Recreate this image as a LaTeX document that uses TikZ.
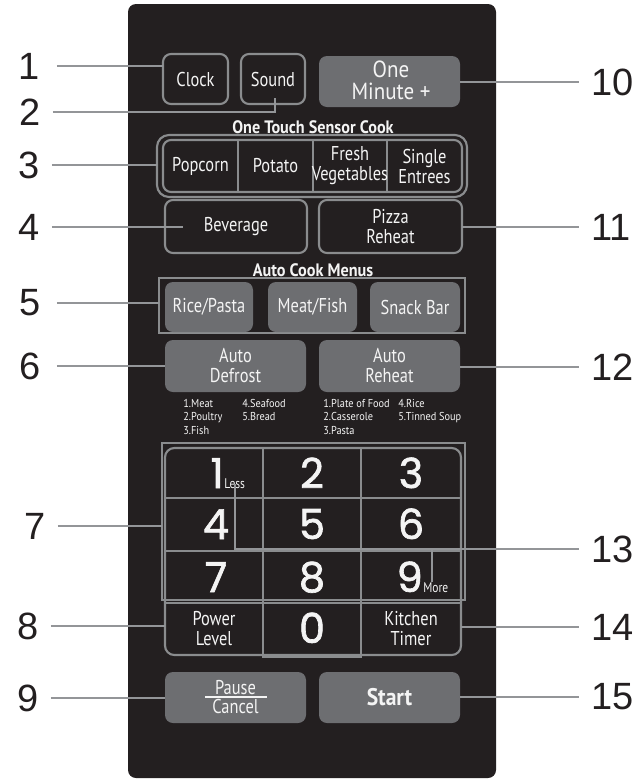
\documentclass[tikz,border=0pt]{standalone}
\usepackage{fontspec}
\newfontfamily\lab{Liberation Sans}
\newfontfamily\btn[FakeStretch=0.82]{PT Sans}
\newfontfamily\btnw[FakeStretch=0.9]{PT Sans}
\newfontfamily\num[FakeBold=1.6]{Poppins}
\definecolor{panel}{HTML}{231F20}
\definecolor{outl}{HTML}{8A8C8E}
\definecolor{fillg}{HTML}{6D6E71}
\definecolor{leadg}{HTML}{939598}
\definecolor{btntext}{HTML}{F4F4F4}
\definecolor{labblack}{HTML}{231F20}
\newcommand\btnfont{\btn\fontsize{15}{15}\selectfont}
\newcommand\mwbtn[7]{%
  \pgfmathsetmacro\mwW{(#4-#2)*0.75}%
  \pgfmathsetmacro\mwH{(#5-#3)*0.75}%
  \node[#6, minimum width=\mwW pt, minimum height=\mwH pt] (#1) at ({(#2+#4)/2},{(#3+#5)/2}) {#7};}
\tikzset{
  base/.style={inner sep=0pt, outer sep=0pt, text=btntext, font=\btnfont, align=center},
  outbtn/.style={base, draw=outl, line width=1.6pt, fill=panel, rounded corners=6pt},
  fillbtn/.style={base, fill=fillg, rounded corners=6pt},
  hlbox/.style={base, draw=outl, line width=1.6pt},
  gridl/.style={draw=outl, line width=1.6pt},
  lead/.style={draw=leadg, line width=1.5pt},
  lbl/.style={inner sep=0pt, outer sep=0pt, text=labblack, font=\lab\fontsize{28.5}{30}\selectfont},
  head/.style={inner sep=0pt, text=btntext, font=\btnw\bfseries\fontsize{13.5}{13.5}\selectfont},
  plain/.style={inner sep=0pt, text=btntext, font=\btnfont, align=center},
  bigt/.style={inner sep=0pt, text=btntext, font=\btnw\fontsize{17.5}{17.5}\selectfont, anchor=base},
  lst/.style={inner sep=0pt, text=btntext, font=\btnw\fontsize{8.6}{10}\selectfont, align=left, anchor=north west},
  dig/.style={inner sep=0pt, text=btntext, font=\num\fontsize{31}{31}\selectfont},
  tiny/.style={inner sep=1pt, text=btntext, font=\btn\fontsize{10.5}{10.5}\selectfont},
}
\begin{document}
\begin{tikzpicture}[x=0.75pt,y=-0.75pt]
\useasboundingbox (0,0) rectangle (638,779);
% panel
\fill[panel, rounded corners=6pt] (128,4) rectangle (496,778);

% top row
\mwbtn{clock}{163}{54}{228}{104}{outbtn}{Clock}
\mwbtn{sound}{241}{54}{305}{104}{outbtn}{Sound}
\mwbtn{onemin}{319}{56}{460}{107}{fillbtn}{}
\node[bigt] (oneT) at (391,77) {One};
\node[bigt] (minT) at (391,99) {Minute +};

% sensor cook
\node[head] (h1) at (313,127) {One Touch Sensor Cook};
\mwbtn{sgrp}{157}{135}{467}{197}{outbtn, rounded corners=9pt}{}
\mwbtn{sinner}{163}{140}{462}{192}{outbtn}{}
\draw[gridl] (238,140) -- (238,192) (313,140) -- (313,192) (387,140) -- (387,192);
\node[plain] (popcorn) at (200.5,166) {Popcorn};
\node[plain] (potato) at (275.5,166) {Potato};
\node[plain] (fresh) at (350,166) {Fresh\\Vegetables};
\node[plain] (single) at (424.5,166) {Single\\Entrees};

\mwbtn{bev}{165}{200}{307}{253}{outbtn}{Beverage}
\mwbtn{pizza}{319}{200}{462}{253}{outbtn}{Pizza\\Reheat}

% auto cook
\node[head] (h2) at (313,270) {Auto Cook Menus};
\mwbtn{acgrp}{159}{278}{465}{333}{hlbox}{}
\mwbtn{rice}{165}{282}{253}{332}{fillbtn}{Rice/Pasta}
\mwbtn{meat}{268}{282}{357}{332}{fillbtn}{Meat/Fish}
\mwbtn{snack}{370}{282}{460}{332}{fillbtn}{Snack Bar}

\mwbtn{adef}{165}{340}{306}{392}{fillbtn}{Auto\\Defrost}
\mwbtn{areh}{319}{340}{460}{392}{fillbtn}{Auto\\Reheat}

\node[lst] (ls1) at (183,399) {1.Meat\\2.Poultry\\3.Fish};
\node[lst] (ls2) at (242,399) {4.Seafood\\5.Bread};
\node[lst] (ls3) at (323,399) {1.Plate of Food\\2.Casserole\\3.Pasta};
\node[lst] (ls4) at (398,399) {4.Rice\\5.Tinned Soup};

% number pad
\mwbtn{padhl}{162}{443}{465}{600}{hlbox}{}
\draw[gridl] (263,600) -- (263,657) -- (361,657) -- (361,600);
\draw[gridl, rounded corners=7pt] (165,448) rectangle (461,655);
\draw[gridl] (263,448) -- (263,655) (361,448) -- (361,655);
\draw[gridl] (165,498) -- (461,498) (165,551) -- (461,551) (165,603) -- (461,603);

\node[dig, anchor=base east] (d1) at (224,488) {1};
\node[tiny, anchor=base west, inner sep=0pt] (lessT) at (224,488) {Less};
\node[dig, anchor=base] (d2) at (312,488) {2};
\node[dig, anchor=base] (d3) at (411,488) {3};
\node[dig, anchor=base] (d4) at (216,539) {4};
\node[dig, anchor=base] (d5) at (312,539) {5};
\node[dig, anchor=base] (d6) at (411,539) {6};
\node[dig, anchor=base] (d7) at (216,592) {7};
\node[dig, anchor=base] (d8) at (312,592) {8};
\node[dig, anchor=base east] (d9) at (423,592) {9};
\node[tiny, anchor=base west, inner sep=0pt] (moreT) at (423,592) {More};
\node[dig, anchor=base] (d0) at (312,643) {0};
\mwbtn{power}{165}{603}{263}{655}{base}{Power\\Level}
\mwbtn{kitchen}{361}{603}{461}{655}{base}{Kitchen\\Timer}

% bottom
\mwbtn{pause}{165}{672}{306}{723}{fillbtn}{}
\node[plain, anchor=south] (pauseT) at (235.5,695) {Pause};
\node[plain, anchor=north] (cancelT) at (235.5,699) {Cancel};
\draw[draw=btntext, line width=0.9pt] (205,697) -- (267,697);
\mwbtn{start}{319}{672}{460}{723}{fillbtn, font=\btnw\bfseries\fontsize{18}{18}\selectfont}{Start}

% labels left
\node[lbl] (l1) at (29,66) {1};
\node[lbl] (l2) at (30,112) {2};
\node[lbl] (l3) at (29,165) {3};
\node[lbl] (l4) at (29,227) {4};
\node[lbl] (l5) at (30,303) {5};
\node[lbl] (l6) at (30,366) {6};
\node[lbl] (l7) at (35,526) {7};
\node[lbl] (l8) at (28,626) {8};
\node[lbl] (l9) at (28,698) {9};
% labels right
\node[lbl, anchor=west] (l10) at (591,82) {10};
\node[lbl, anchor=west] (l11) at (591,227) {11};
\node[lbl, anchor=west] (l12) at (591,367) {12};
\node[lbl, anchor=west] (l13) at (591,549) {13};
\node[lbl, anchor=west] (l14) at (591,627) {14};
\node[lbl, anchor=west] (l15) at (591,697) {15};

% leader lines left
\draw[lead, shorten <=13pt] (l1.east) -- (l1.east -| clock.west);
\draw[lead, shorten <=9.3pt] (l2.east) -| ([xshift=1.5pt,yshift=4.5pt]sound.south);
\draw[lead, shorten <=9.3pt] (l3.east) -- (l3.east -| sgrp.west);
\draw[lead, shorten <=9.3pt] (l4.east) -- ([xshift=13.5pt]l4.east -| bev.west);
\draw[lead, shorten <=12.3pt] (l5.east) -- (l5.east -| acgrp.west);
\draw[lead, shorten <=12.3pt] (l6.east) -- (l6.east -| adef.west);
\draw[lead, shorten <=9.3pt] (l7.east) -- (l7.east -| padhl.west);
\draw[lead, shorten <=9.3pt] (l8.east) -- (l8.east -| power.west);
\draw[lead, shorten <=9.3pt] (l9.east) -- (l9.east -| pause.west);
% leader lines right
\draw[lead, shorten >=9pt] (l10.west -| onemin.east) -- (l10.west);
\draw[lead, shorten >=9pt] (l11.west -| pizza.east) -- (l11.west);
\draw[lead, shorten >=9pt] (l12.west -| areh.east) -- (l12.west);
\draw[lead, shorten >=9pt, shorten <=-3pt] (lessT.south) |- (l13.west);
\draw[lead] ([xshift=-3pt]moreT.north) -- ([xshift=-3pt]moreT.north |- l13.west);
\draw[lead, shorten >=9pt] (l14.west -| kitchen.east) -- (l14.west);
\draw[lead, shorten >=9pt] (l15.west -| start.east) -- (l15.west);
\end{tikzpicture}
\end{document}
